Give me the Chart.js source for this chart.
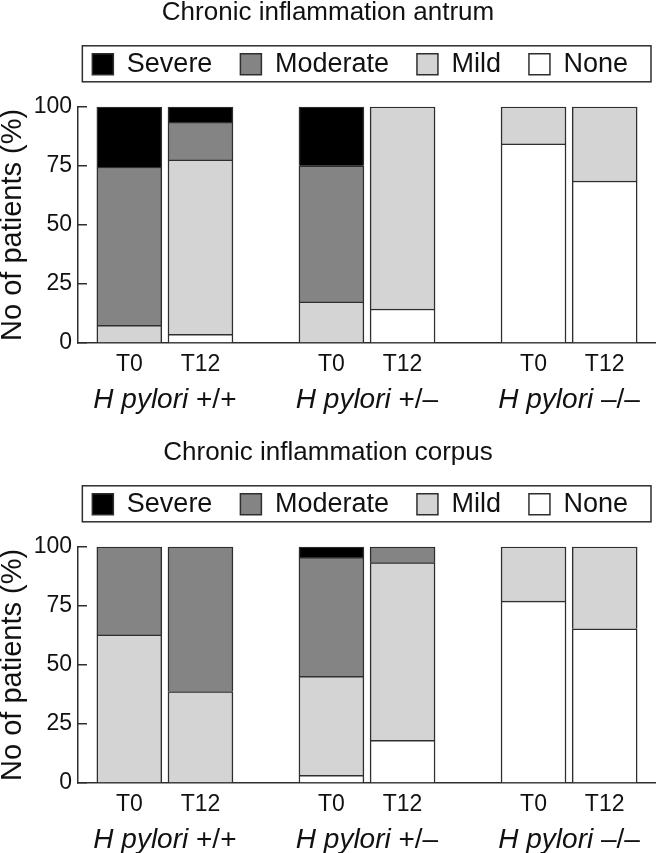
<!DOCTYPE html>
<html>
<head>
<meta charset="utf-8">
<script src="https://cdn.jsdelivr.net/npm/chart.js@4"></script>
<style>
  body { margin: 0; background: #fff; overflow: hidden; }
  canvas { display: block; }
</style>
</head>
<body>
<canvas id="antrum" width="656" height="440"></canvas>
<canvas id="corpus" width="656" height="440"></canvas>
<script>
const organism = 'H pylori';
const groups = ['+/+', '+/–', '–/–'];
const times = ['T0', 'T12'];
// stacked bottom to top
const grades = ['None', 'Mild', 'Moderate', 'Severe'];
const gradeColors = ['#ffffff', '#d4d4d4', '#848484', '#000000'];

// one value per bar: +/+ T0, +/+ T12, +/– T0, +/– T12, –/– T0, –/– T12 (% of patients)
const antrumSevere   = [25.5, 6.5, 25, 0, 0, 0];
const antrumModerate = [67, 16, 57.6, 0, 0, 0];
const antrumMild     = [7.5, 73.8, 17.4, 85.6, 15.7, 31.4];
const antrumNone     = [0, 3.7, 0, 14.4, 84.3, 68.6];

const corpusSevere   = [0, 0, 4.5, 0, 0, 0];
const corpusModerate = [37.3, 61.3, 50.3, 6.7, 0, 0];
const corpusMild     = [62.7, 38.7, 42, 75.2, 23, 34.7];
const corpusNone     = [0, 0, 3.2, 18.1, 77, 65.3];

const FONT = '"Liberation Sans", Arial, sans-serif';
const INK = '#111';
const LINE = '#2e2e2e';

// bar centres: group index +/- half the in-group spacing
const barX = groups.flatMap((g, gi) => times.map((t, ti) => gi + (ti === 0 ? -0.176 : 0.176)));

// push the plot down below the legend
const legendGap = {
  id: 'legendGap',
  beforeInit(chart) {
    const fit = chart.legend.fit;
    chart.legend.fit = function () {
      fit.call(this);
      this.height += 19;
    };
  }
};

// framed legend
const legendFrame = {
  id: 'legendFrame',
  afterDraw(chart) {
    const boxes = chart.legend.legendHitBoxes;
    if (!boxes || !boxes.length) return;
    const first = boxes[0];
    const left = first.left - 10;
    const right = chart.legend.right - 5;
    const ctx = chart.ctx;
    ctx.save();
    ctx.strokeStyle = LINE;
    ctx.lineWidth = 1.5;
    ctx.strokeRect(left, first.top - 5, right - left, first.height + 9);
    ctx.restore();
  }
};

// "H pylori +/+" under each pair of bars
const groupLabels = {
  id: 'groupLabels',
  afterDraw(chart) {
    const { ctx, chartArea, scales: { x } } = chart;
    const y = chartArea.bottom + 65;
    ctx.save();
    ctx.fillStyle = INK;
    ctx.textBaseline = 'alphabetic';
    ctx.textAlign = 'left';
    groups.forEach((g, i) => {
      const head = organism + ' ';
      ctx.font = 'italic 28px ' + FONT;
      const w1 = ctx.measureText(head).width;
      ctx.font = '28px ' + FONT;
      const w2 = ctx.measureText(g).width;
      const left = x.getPixelForValue(i) - (w1 + w2) / 2;
      ctx.font = 'italic 28px ' + FONT;
      ctx.fillText(head, left, y);
      ctx.font = '28px ' + FONT;
      ctx.fillText(g, left + w1, y);
    });
    ctx.restore();
  }
};

function makeChart(id, title, severe, moderate, mild, none) {
  const series = [none, mild, moderate, severe];
  return new Chart(document.getElementById(id), {
    type: 'bar',
    data: {
      datasets: grades.map((name, k) => ({
        label: name,
        data: series[k].map((v, i) => ({ x: barX[i], y: v })),
        backgroundColor: gradeColors[k],
        borderColor: LINE,
        borderWidth: 1.5,
        barThickness: 65
      }))
    },
    options: {
      responsive: false,
      animation: false,
      layout: { padding: { top: 2, left: 0, right: 0, bottom: 0 } },
      plugins: {
        title: {
          display: true,
          text: title,
          color: INK,
          font: { family: FONT, size: 26, weight: 'normal', lineHeight: 0.8 },
          padding: { top: 0, bottom: 0 }
        },
        legend: {
          reverse: true,
          align: 'end',
          labels: {
            color: INK,
            font: { family: FONT, size: 27 },
            boxWidth: 21,
            boxHeight: 21,
            padding: 28
          }
        },
        tooltip: { enabled: false }
      },
      scales: {
        x: {
          type: 'linear',
          stacked: true,
          offset: false,
          min: -0.43,
          max: 2.43,
          afterBuildTicks: (scale) => {
            scale.ticks = barX.map(v => ({ value: v }));
          },
          afterFit: (scale) => { scale.height = 97; },
          ticks: {
            autoSkip: false,
            maxRotation: 0,
            padding: 8,
            color: INK,
            font: { family: FONT, size: 23 },
            callback: (value, index) => times[index % times.length]
          },
          grid: { display: false, drawTicks: false },
          border: { display: true, color: LINE, width: 1.5 }
        },
        y: {
          stacked: true,
          min: 0,
          max: 100,
          afterFit: (scale) => { scale.width = 78; },
          ticks: {
            stepSize: 25,
            padding: 15,
            color: INK,
            font: { family: FONT, size: 23 }
          },
          grid: {
            display: true,
            drawOnChartArea: false,
            drawTicks: true,
            tickLength: -9,
            color: LINE,
            lineWidth: 1.5
          },
          border: { display: true, color: LINE, width: 1.5 },
          title: {
            display: true,
            text: 'No of patients (%)',
            color: INK,
            font: { family: FONT, size: 29, lineHeight: 0.9 },
            padding: 0
          }
        }
      }
    },
    plugins: [legendGap, legendFrame, groupLabels]
  });
}

makeChart('antrum', 'Chronic inflammation antrum', antrumSevere, antrumModerate, antrumMild, antrumNone);
makeChart('corpus', 'Chronic inflammation corpus', corpusSevere, corpusModerate, corpusMild, corpusNone);
</script>
</body>
</html>
